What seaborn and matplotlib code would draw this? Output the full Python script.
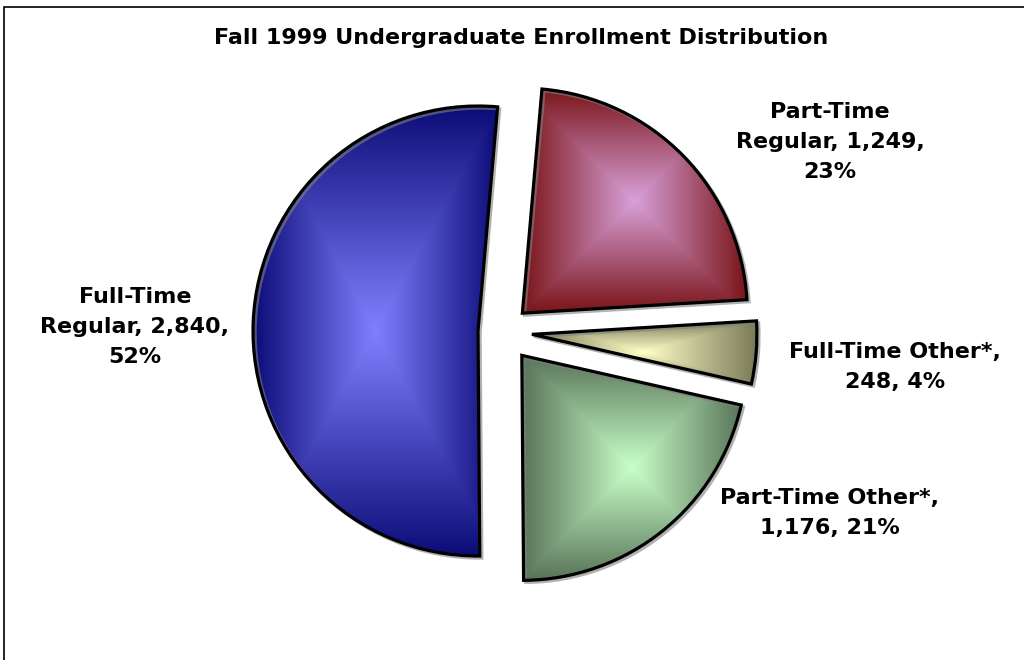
import numpy as np
import matplotlib
matplotlib.use('Agg')
import matplotlib.pyplot as plt
import matplotlib.patheffects as pe
from matplotlib.colors import LinearSegmentedColormap
from matplotlib.patches import Rectangle
import seaborn as sns

# Data (clockwise from the top, as in the original)
categories = ['Part-Time Regular', 'Full-Time Other*', 'Part-Time Other*', 'Full-Time Regular']
counts = [1249, 248, 1176, 2840]
label_text = ['Part-Time\nRegular, 1,249,\n23%',
              'Full-Time Other*,\n248, 4%',
              'Part-Time Other*,\n1,176, 21%',
              'Full-Time\nRegular, 2,840,\n52%']
light_colors = ['#d8a0d8', '#ffffc8', '#c8ffc8', '#8080ff']
dark_colors = ['#7a1418', '#7a7a58', '#587458', '#0c0c78']

sns.set_style("white")
plt.rcParams['font.family'] = ['DejaVu Sans']

fig = plt.figure(figsize=(10.24, 6.6), dpi=100)
ax = fig.add_axes([0, 0, 1, 1])

# pie in pixel units: radius 225, explode offsets in pixels
wedges, _ = ax.pie(counts, explode=[27, 29, 30, 25], startangle=85,
                   counterclock=False, center=(503, 328), radius=225,
                   wedgeprops=dict(facecolor='none', edgecolor='black', linewidth=2.3))
ax.set_aspect('equal')
ax.axis('off')

# rectangular "from centre" gradient fill for each wedge, clipped to the wedge
for w, c1, c2 in zip(wedges, light_colors, dark_colors):
    cx, cy = w.center
    th = np.radians(np.linspace(w.theta1, w.theta2, 200))
    xs = np.concatenate([[cx], cx + w.r * np.cos(th)])
    ys = np.concatenate([[cy], cy + w.r * np.sin(th)])
    x0, x1, y0, y1 = xs.min(), xs.max(), ys.min(), ys.max()
    u, v = np.meshgrid(np.linspace(-1, 1, 300), np.linspace(-1, 1, 300))
    t = np.maximum(np.abs(u), np.abs(v))
    cmap = LinearSegmentedColormap.from_list('g', [c1, c2])
    im = ax.imshow(t, cmap=cmap, extent=(x0, x1, y0, y1), origin='lower',
                   interpolation='bilinear', zorder=0.5, aspect='auto')
    im.set_clip_path(w)
    w.set_zorder(1)
    w.set_path_effects([pe.SimpleLineShadow(offset=(1.5, -1.5), shadow_color='gray', alpha=0.6),
                        pe.Normal()])

ax.set_xlim(0, 1024)
ax.set_ylim(0, 660)

label_pos = [(830, 518), (895, 293), (830, 147), (135, 333)]
for txt, (x, y) in zip(label_text, label_pos):
    ax.text(x, y, txt, ha='center', va='center', fontsize=16, color='black',
            fontweight='bold', linespacing=1.62)

ax.text(521, 622, 'Fall 1999 Undergraduate Enrollment Distribution',
        ha='center', va='center', fontsize=16, fontweight='bold', color='black')

# chart border
fig.patches.append(Rectangle((4 / 1024, -0.1), 1.2, (653 / 660) + 0.1,
                             transform=fig.transFigure, fill=False,
                             edgecolor='black', linewidth=1.2))

fig.savefig('out.png', dpi=100)
